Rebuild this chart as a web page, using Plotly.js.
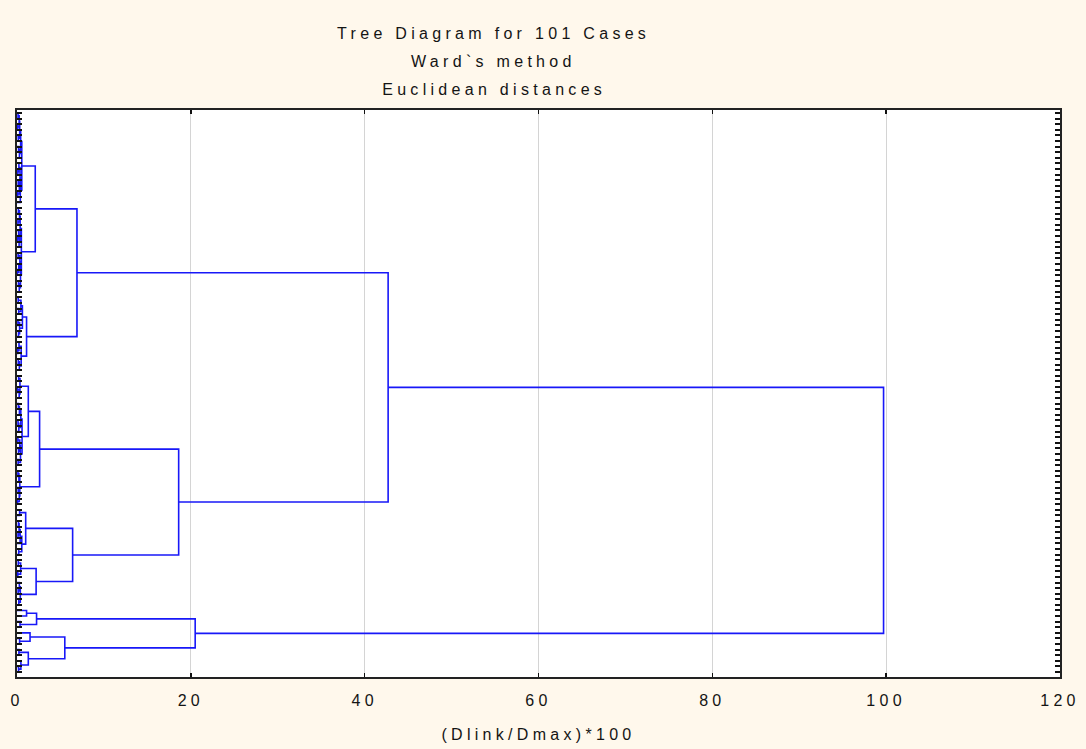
<!DOCTYPE html>
<html>
<head>
<meta charset="utf-8">
<script src="https://cdn.plot.ly/plotly-3.0.1.min.js"></script>
<style>
  html, body { margin: 0; padding: 0; background: #FFF8EC; }
  #chart { width: 1086px; height: 749px; }
  .main-svg text { letter-spacing: 4.3px; }
</style>
</head>
<body>
<div id="chart"></div>
<script>
// Merge height (Dlink/Dmax*100) between each pair of adjacent cases, in tree order (101 cases -> 100 gaps)
const gapHeight = [
  0.12, 0.25, 0.08, 0.31, 0.15, 0.42, 0.18, 0.28, 0.55, 0.22,
  0.10, 0.35, 0.14, 0.27, 0.09, 0.38, 2.1,  0.16, 0.29, 0.11,
  0.36, 0.19, 0.07, 0.24, 0.50, 0.13, 0.33, 0.21, 0.06, 0.40,
  0.17, 0.26, 6.9,  0.14, 0.45, 0.20, 0.62, 0.11, 0.30, 0.18,
  1.1,  0.23, 0.09, 0.48, 0.15, 0.27, 42.7, 0.19, 0.34, 0.08,
  0.25, 1.3,  0.16, 0.28, 0.44, 0.12, 0.21, 0.58, 0.10, 0.32,
  0.18, 0.40, 0.13, 2.6,  0.11, 0.22, 0.32, 0.14, 0.26, 0.07,
  18.6, 0.30, 1.0,  0.17, 0.24, 0.12, 0.36, 0.55, 0.20, 6.4,
  0.15, 0.42, 0.09, 2.2,  0.27, 0.13, 0.38, 0.21, 99.7, 1.1,
  2.25, 0.35, 20.5, 1.5,  0.30, 5.5,  0.22, 1.3,  0.45, 0.18
];
const xTickVals = [0, 20, 40, 60, 80, 100, 120];
const titleLines = ['Tree Diagram for 101 Cases', 'Ward`s method', 'Euclidean distances'];
const xAxisTitle = '(Dlink/Dmax)*100';

const nCases = gapHeight.length + 1;
const caseIdx = Array.from({length: nCases}, (_, i) => i);

const xs = [], ys = [];
function build(lo, hi) {
  if (lo === hi) return {x: 0, y: lo};
  let s = lo;
  for (let i = lo; i < hi; i++) if (gapHeight[i] > gapHeight[s]) s = i;
  const L = build(lo, s), R = build(s + 1, hi);
  const h = gapHeight[s];
  xs.push(L.x, h, h, R.x, null);
  ys.push(L.y, L.y, R.y, R.y, null);
  return {x: h, y: (L.y + R.y) / 2};
}
build(0, nCases - 1);

const FONT = 'Liberation Sans, Arial, sans-serif';
const TXT = '#141414';
const trace = {
  type: 'scatter', mode: 'lines', x: xs, y: ys,
  line: {color: '#1818F8', width: 1.6},
  hoverinfo: 'skip', showlegend: false
};

const layout = {
  width: 1086, height: 749,
  margin: {l: 17, r: 26, t: 110, b: 72},
  paper_bgcolor: '#FFF8EC',
  plot_bgcolor: '#FFFFFF',
  font: {family: FONT, size: 16, color: TXT},
  title: {
    text: titleLines[0],
    font: {family: FONT, size: 16, color: TXT},
    x: 0.457, xref: 'paper', xanchor: 'center',
    y: 1 - 33 / 749, yref: 'container', yanchor: 'middle'
  },
  annotations: [
    {text: titleLines[1], xref: 'paper', yref: 'paper', x: 0.457, y: (677 - 61) / 567,
     xanchor: 'center', yanchor: 'middle', showarrow: false, font: {family: FONT, size: 16, color: TXT}},
    {text: titleLines[2], xref: 'paper', yref: 'paper', x: 0.457, y: (677 - 89) / 567,
     xanchor: 'center', yanchor: 'middle', showarrow: false, font: {family: FONT, size: 16, color: TXT}}
  ],
  xaxis: {
    range: [0, 120],
    tickvals: xTickVals,
    ticktext: xTickVals.map(String),
    ticks: 'inside', ticklen: 4, tickwidth: 1.5, tickcolor: '#111',
    showline: true, linecolor: '#222', linewidth: 2, mirror: 'ticks',
    showgrid: true, gridcolor: '#D4D4D4', gridwidth: 1,
    zeroline: false,
    ticklabelstandoff: 8,
    tickfont: {family: FONT, size: 16, color: TXT},
    title: {text: xAxisTitle, font: {family: FONT, size: 16, color: TXT}, standoff: 21},
    automargin: false, fixedrange: true
  },
  yaxis: {
    range: [100.9, -0.54],
    tickvals: caseIdx,
    showticklabels: false,
    ticks: 'inside', ticklen: 5, tickwidth: 2, tickcolor: '#111',
    showline: true, linecolor: '#222', linewidth: 2, mirror: 'ticks',
    showgrid: false, zeroline: false,
    automargin: false, fixedrange: true
  }
};

Plotly.newPlot('chart', [trace], layout, {displayModeBar: false, staticPlot: true});
</script>
</body>
</html>
